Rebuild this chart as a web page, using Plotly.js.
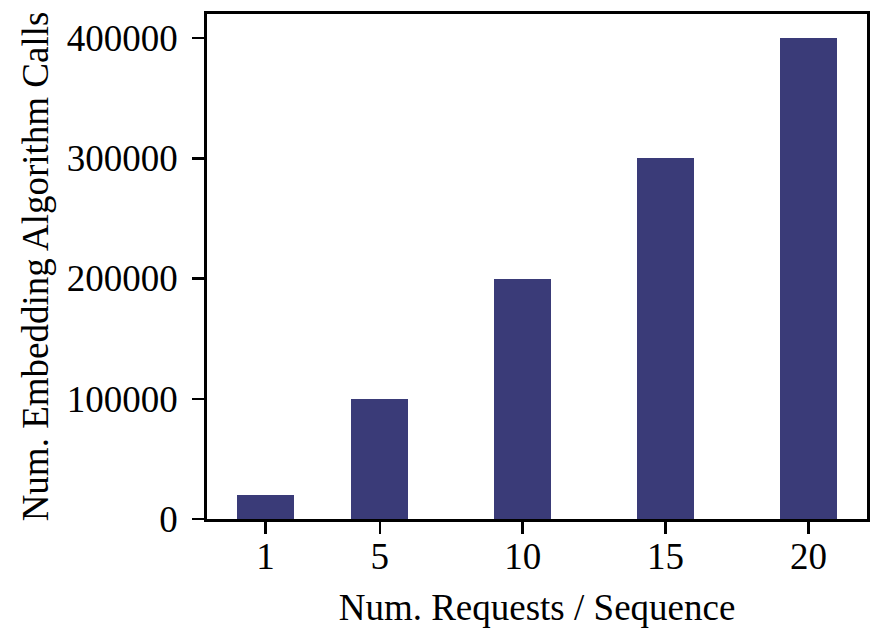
<!DOCTYPE html>
<html>
<head>
<meta charset="utf-8">
<script src="https://cdn.plot.ly/plotly-3.0.1.min.js"></script>
<style>html,body{margin:0;padding:0;background:#fff;}#chart{width:874px;height:628px;}</style>
</head>
<body>
<div id="chart"></div>
<script>
const requestsPerSequence = [1, 5, 10, 15, 20];
const embeddingCalls = [20000, 100000, 200000, 300000, 400000];
const yTickValues = [0, 100000, 200000, 300000, 400000];
const xTitle = "Num. Requests / Sequence";
const yTitle = "Num. Embedding Algorithm Calls";

const fontFamily = "Liberation Serif, Times New Roman, serif";
const fs = 37;

const trace = {
  type: "bar",
  x: requestsPerSequence,
  y: embeddingCalls,
  width: 2,
  marker: {color: "#3a3b78", line: {width: 0}},
  hoverinfo: "x+y"
};

const layout = {
  width: 874,
  height: 628,
  margin: {l: 207, r: 7, t: 14, b: 109, pad: 0},
  paper_bgcolor: "#ffffff",
  plot_bgcolor: "#ffffff",
  showlegend: false,
  font: {family: fontFamily, size: fs, color: "#000000"},
  xaxis: {
    range: [-1.05, 22.05],
    tickvals: requestsPerSequence,
    ticktext: requestsPerSequence.map(String),
    ticks: "outside",
    ticklen: 12,
    tickwidth: 2.5,
    tickcolor: "#000000",
    ticklabelstandoff: -9,
    showline: true,
    linewidth: 2.8,
    linecolor: "#000000",
    mirror: true,
    showgrid: false,
    zeroline: false,
    automargin: false,
    tickfont: {family: fontFamily, size: fs, color: "#000000"},
    title: {text: xTitle, font: {family: fontFamily, size: fs, color: "#000000"}, standoff: 18}
  },
  yaxis: {
    range: [0, 420000],
    tickvals: yTickValues,
    tickformat: "d",
    ticks: "outside",
    ticklen: 12,
    tickwidth: 2.5,
    tickcolor: "#000000",
    ticklabelstandoff: 7,
    showline: true,
    linewidth: 2.8,
    linecolor: "#000000",
    mirror: true,
    showgrid: false,
    zeroline: false,
    automargin: false,
    tickfont: {family: fontFamily, size: fs, color: "#000000"},
    title: {text: yTitle, font: {family: fontFamily, size: fs, color: "#000000"}, standoff: 7}
  },
  bargap: 0
};

Plotly.newPlot("chart", [trace], layout, {displayModeBar: false, staticPlot: true});
</script>
</body>
</html>
